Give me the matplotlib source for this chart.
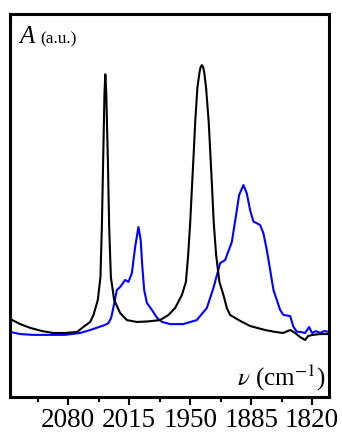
import matplotlib
matplotlib.use('Agg')
import matplotlib.pyplot as plt
from matplotlib.ticker import MultipleLocator

#
#--- absorbance spectra (wavenumber in cm-1, absorbance in a.u.)
#
black_w = [2141.8, 2131.1, 2120.5, 2107.7, 2096.0, 2083.2, 2070.4, 2064.0, 2056.6, 2053.0,
           2048.4, 2045.6, 2044.1, 2042.7, 2041.3, 2040.4, 2039.4, 2037.7, 2036.3, 2034.5,
           2031.0, 2024.6, 2017.4, 2006.8, 1995.0, 1982.0, 1973.1, 1966.0, 1958.8, 1954.5,
           1952.1, 1949.9, 1948.1, 1946.3, 1944.6, 1942.3, 1940.0, 1938.7, 1937.5, 1936.3,
           1935.0, 1933.0, 1930.2, 1928.4, 1926.6, 1924.9, 1922.3, 1918.8, 1914.5, 1910.9,
           1907.4, 1896.7, 1886.1, 1878.6, 1870.1, 1859.4, 1850.9, 1843.4, 1838.1, 1832.8,
           1827.5, 1824.2, 1818.9, 1811.5, 1801.9]
black_a = [0.052, 0.033, 0.019, 0.007, 0.000, 0.000, 0.004, 0.022, 0.041, 0.067,
           0.123, 0.208, 0.394, 0.643, 0.892, 0.962, 0.892, 0.643, 0.394, 0.208,
           0.123, 0.074, 0.048, 0.041, 0.043, 0.048, 0.067, 0.093, 0.141, 0.190,
           0.290, 0.413, 0.539, 0.662, 0.784, 0.911, 0.970, 0.990, 0.996, 0.990,
           0.970, 0.911, 0.784, 0.662, 0.539, 0.413, 0.290, 0.190, 0.141, 0.093,
           0.067, 0.045, 0.026, 0.019, 0.011, 0.004, 0.000, 0.011, 0.000, -0.015,
           -0.026, -0.011, -0.007, -0.004, -0.004]

blue_w = [2141.8, 2131.1, 2117.3, 2099.2, 2083.2, 2067.2, 2056.6, 2040.6, 2037.1, 2034.2,
          2031.7, 2028.1, 2024.6, 2019.3, 2015.7, 2012.1, 2008.6, 2005.1, 2002.7, 2001.1,
          1999.0, 1996.1, 1990.8, 1985.2, 1979.8, 1971.3, 1957.5, 1942.9, 1932.2, 1925.2,
          1918.0, 1912.7, 1905.6, 1901.0, 1897.8, 1893.2, 1889.6, 1886.1, 1882.5, 1878.9,
          1875.4, 1871.9, 1868.3, 1864.7, 1861.2, 1854.1, 1850.6, 1843.4, 1839.9, 1836.4,
          1832.8, 1827.5, 1823.2, 1820.0, 1815.7, 1811.5, 1807.2, 1801.9]
blue_a = [0.004, -0.004, -0.007, -0.007, -0.007, 0.000, 0.011, 0.030, 0.037, 0.056,
          0.097, 0.160, 0.171, 0.197, 0.190, 0.223, 0.320, 0.394, 0.346, 0.253,
          0.160, 0.112, 0.086, 0.056, 0.041, 0.033, 0.033, 0.048, 0.093, 0.167,
          0.260, 0.271, 0.338, 0.439, 0.513, 0.550, 0.519, 0.457, 0.414, 0.408,
          0.401, 0.371, 0.309, 0.234, 0.160, 0.086, 0.067, 0.063, 0.023, 0.005,
          0.004, 0.000, 0.022, 0.000, 0.007, 0.000, 0.007, 0.004]

xticks = [2080, 2015, 1950, 1885, 1820]

#
#--- fonts
#
plt.rcParams['font.family'] = ['Liberation Serif', 'DejaVu Serif']
plt.rcParams['mathtext.fontset'] = 'stix'

fig = plt.figure(figsize=(3.42, 4.36), dpi=100)
ax  = fig.add_axes([10/342, 1 - 397/436, 319/342, 383/436])

ax.plot(black_w, black_a, color='black', lw=1.5, zorder=3, solid_joinstyle='round')
ax.plot(blue_w,  blue_a,  color='#0000ff', lw=1.5, zorder=2, solid_joinstyle='round')

ax.set_xlim(2142, 1802)
ax.set_ylim(-0.238, 1.186)

#
#--- ticks: only bottom, outward
#
ax.set_xticks(xticks)
ax.set_xticklabels([str(v) for v in xticks])
ax.xaxis.set_minor_locator(MultipleLocator(32.5))
ax.tick_params(axis='x', which='major', direction='out', length=6, width=1.5,
               labelsize=19.5, pad=2)
ax.tick_params(axis='x', which='minor', direction='out', length=3.5, width=1.5)
ax.set_yticks([])

for sp in ax.spines.values():
    sp.set_linewidth(2.2)

#
#--- axis labels inside the frame
#
ax.text(0.03, 0.924, 'A', style='italic', fontsize=18, transform=ax.transAxes,
        va='baseline', ha='left')
ax.text(0.094, 0.924, '(a.u.)', fontsize=12.5, transform=ax.transAxes,
        va='baseline', ha='left')
ax.text(0.99, 0.031, r'$\nu$ (cm$^{\mathrm{-1}}$)', fontsize=18, transform=ax.transAxes,
        va='baseline', ha='right')

plt.savefig('out.png', dpi=100)
